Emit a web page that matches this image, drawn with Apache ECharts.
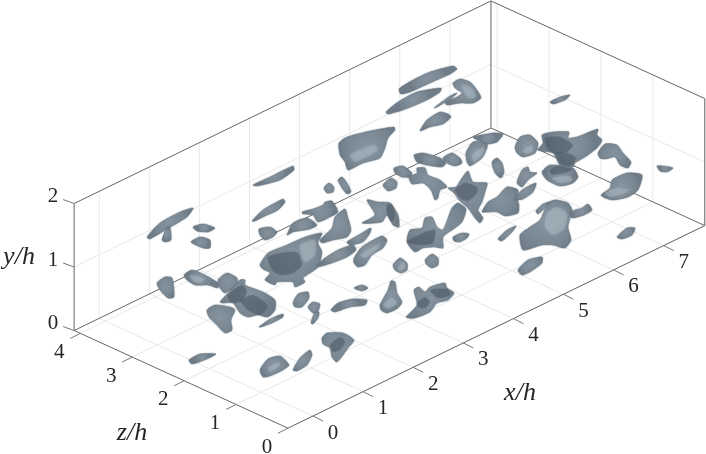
<!DOCTYPE html>
<html>
<head>
<meta charset="utf-8">
<style>
  html, body { margin: 0; padding: 0; background: #fff; }
  #app { width: 706px; height: 454px; }
</style>
<script src="https://cdn.jsdelivr.net/npm/echarts@6/dist/echarts.min.js"></script>
</head>
<body>
<div id="app"></div>
<script>
// axis ranges and ticks, in h units
const xRange = [-0.5, 7.82];
const zRange = [0, 4.12];
const yRange = [0, 2];
const xTicks = [0, 1, 2, 3, 4, 5, 6, 7];
const zTicks = [0, 1, 2, 3, 4];
const yTicks = [0, 1, 2];

// outlines of the iso-surfaces in view-plane units
const blobOutlines = [
  [[399,89],[413,80],[430,72],[453,66],[457,69],[450,74],[430,83],[410,92],[401,94]],
  [[386,112],[398,102],[417,92],[441,88],[440,92],[427,100],[403,110],[388,114]],
  [[434,108],[450,96],[457,93],[452,98],[437,107]],
  [[453,83],[460,79],[470,82],[477,90],[481,98],[473,103],[460,103],[447,105],[445,102],[457,97],[462,93],[455,88]],
  [[420,131],[427,120],[440,112],[448,114],[451,117],[443,124],[430,127]],
  [[339,143],[347,137],[370,131],[394,127],[395,130],[388,138],[385,148],[380,158],[363,163],[348,170],[345,162],[340,155]],
  [[253,185],[270,177],[293,166],[294,170],[280,180],[257,186]],
  [[324,188],[329,183],[334,187],[333,192],[327,193]],
  [[338,180],[342,177],[347,183],[351,192],[347,194],[342,188]],
  [[383,185],[391,178],[397,182],[396,188],[388,191]],
  [[414,155],[423,153],[440,158],[446,163],[442,167],[427,165],[417,162]],
  [[443,158],[452,153],[460,158],[462,163],[455,166],[447,163]],
  [[466,153],[473,142],[487,143],[487,148],[482,158],[470,166],[467,162]],
  [[473,137],[493,133],[503,134],[497,142],[487,144],[477,140]],
  [[492,162],[497,158],[502,163],[504,172],[501,178],[495,173]],
  [[394,168],[403,166],[412,173],[410,177],[402,177],[395,173]],
  [[409,177],[417,173],[417,168],[425,168],[428,175],[440,180],[447,187],[440,190],[438,198],[435,200],[431,190],[423,183],[412,184]],
  [[448,188],[456,187],[462,178],[468,171],[473,182],[487,183],[485,192],[482,202],[478,210],[483,218],[480,223],[475,218],[468,208],[460,201],[454,193]],
  [[482,212],[488,202],[497,197],[507,187],[518,190],[517,198],[519,205],[518,213],[505,216],[497,212],[487,212]],
  [[498,239],[507,230],[516,226],[512,232],[502,241]],
  [[453,237],[462,233],[469,234],[467,238],[460,242],[454,241]],
  [[407,242],[410,230],[422,228],[425,218],[432,217],[437,227],[443,230],[452,208],[458,203],[466,209],[462,222],[455,228],[443,237],[443,248],[435,247],[423,248],[415,252]],
  [[367,200],[378,202],[390,203],[398,215],[399,227],[393,225],[387,215],[382,222],[362,223],[375,215]],
  [[425,260],[432,254],[438,258],[438,265],[432,268],[427,265]],
  [[393,265],[400,258],[407,263],[407,270],[401,273],[395,270]],
  [[380,305],[388,290],[391,281],[395,282],[397,293],[402,302],[398,308],[387,313],[381,310]],
  [[406,317],[417,305],[414,290],[419,287],[425,292],[430,287],[445,283],[447,288],[454,293],[448,300],[437,303],[430,312],[415,318],[408,318]],
  [[252,221],[263,210],[283,199],[285,202],[278,210],[263,217],[255,221]],
  [[259,229],[270,227],[277,232],[273,237],[265,240],[260,235]],
  [[287,235],[293,223],[307,218],[317,225],[310,229],[293,232],[288,235]],
  [[302,212],[313,209],[323,205],[325,202],[332,201],[338,212],[330,217],[318,222],[313,215],[303,214]],
  [[260,265],[268,253],[287,245],[305,237],[322,233],[318,243],[322,252],[318,267],[307,275],[303,278],[305,282],[295,287],[293,282],[277,282],[275,285],[265,280],[270,273],[263,269]],
  [[320,240],[332,228],[335,217],[345,209],[348,218],[351,230],[347,237],[333,240],[322,243]],
  [[317,265],[325,258],[338,250],[353,245],[356,250],[347,257],[332,263],[318,267]],
  [[347,242],[362,233],[371,228],[370,233],[363,242],[350,245]],
  [[354,258],[362,247],[382,236],[387,240],[383,248],[372,255],[365,265],[358,267],[354,263]],
  [[354,288],[362,285],[368,288],[362,291]],
  [[331,310],[338,303],[353,299],[367,300],[365,305],[350,307],[335,312]],
  [[293,303],[298,294],[308,292],[309,298],[302,307],[295,307]],
  [[308,307],[313,302],[320,304],[318,311],[313,313]],
  [[311,323],[315,312],[319,312],[318,318],[313,324]],
  [[259,327],[270,319],[283,314],[283,317],[272,323],[261,327]],
  [[260,370],[268,359],[280,356],[289,365],[283,370],[270,376],[263,377]],
  [[293,370],[300,358],[310,350],[312,355],[307,365],[297,371]],
  [[322,338],[327,333],[343,333],[354,340],[348,348],[337,362],[332,357],[330,348],[323,344]],
  [[189,360],[200,354],[216,354],[207,359],[192,364]],
  [[147,237],[160,223],[180,212],[193,208],[187,217],[167,229],[150,239]],
  [[162,240],[167,227],[170,227],[171,240],[165,242]],
  [[193,227],[203,224],[215,228],[208,232],[197,231]],
  [[191,242],[200,237],[210,240],[210,248],[203,248]],
  [[157,283],[165,277],[172,278],[174,297],[168,298],[160,290]],
  [[184,275],[192,270],[205,275],[218,283],[218,288],[208,285],[195,285],[187,280]],
  [[218,280],[227,273],[237,278],[237,285],[225,293],[220,288]],
  [[220,302],[228,293],[240,280],[245,280],[245,285],[263,292],[275,300],[275,310],[268,317],[258,315],[248,317],[240,313],[233,303],[223,303]],
  [[207,310],[215,305],[230,307],[235,310],[231,320],[232,330],[225,333],[215,323],[209,317]],
  [[515,147],[520,137],[530,135],[538,143],[535,153],[523,157],[517,153]],
  [[538,150],[543,143],[542,135],[553,132],[569,132],[568,138],[577,137],[598,129],[597,135],[602,140],[597,148],[585,157],[575,163],[573,167],[560,165],[553,153]],
  [[542,172],[550,165],[573,168],[578,177],[573,183],[560,186],[547,180]],
  [[598,153],[605,144],[617,145],[623,153],[631,162],[628,168],[620,165],[615,157],[605,159],[600,158]],
  [[601,195],[610,188],[612,180],[627,173],[642,175],[638,190],[628,197],[613,200],[605,198]],
  [[617,237],[627,228],[635,228],[632,235],[622,239]],
  [[550,102],[560,97],[570,95],[565,100],[553,104]],
  [[657,166],[663,166],[673,168],[667,172],[660,171]],
  [[520,235],[530,227],[540,220],[548,203],[555,200],[568,203],[572,210],[568,227],[571,240],[565,248],[553,245],[542,245],[523,250]],
  [[570,212],[582,208],[588,204],[592,210],[584,215],[572,218]],
  [[536,211],[543,204],[550,202],[545,208],[538,214]],
  [[517,183],[522,170],[528,167],[530,172],[537,173],[528,180],[522,187]],
  [[514,200],[522,190],[536,183],[533,192],[523,199]],
  [[518,270],[528,260],[542,257],[542,263],[530,272],[522,275]]
];

// overlaps, where one surface shows through another
const darkPatches = [
  [[455,190],[465,183],[477,187],[477,193],[468,201],[460,198]],
  [[407,242],[425,232],[435,230],[433,243],[422,245]],
  [[417,303],[425,297],[430,302],[425,308],[419,307]],
  [[430,290],[447,289],[450,295],[438,298]],
  [[268,257],[287,252],[298,253],[302,265],[293,273],[280,275],[272,270]],
  [[330,345],[340,337],[345,342],[340,350],[333,352]],
  [[228,295],[242,285],[247,292],[240,302],[230,302]],
  [[240,300],[253,295],[265,302],[268,307],[260,315],[248,310]],
  [[545,138],[560,137],[573,145],[567,152],[553,153],[547,148]],
  [[555,153],[568,153],[576,158],[572,165],[562,165]],
  [[550,170],[557,166],[572,169],[565,173],[552,175]],
  [[387,205],[392,204],[395,215],[392,222],[387,215]]
];

const lightPatches = [
  [[547,213],[557,207],[567,213],[565,228],[553,235],[545,227]],
  [[605,193],[617,188],[630,190],[623,194],[610,197]],
  [[383,305],[392,298],[397,303],[388,309]],
  [[360,255],[380,243],[378,248],[365,258]],
  [[523,150],[532,145],[533,151],[526,154]],
  [[268,368],[278,362],[280,365],[270,372]],
  [[350,155],[375,145],[378,150],[355,162]],
  [[300,245],[315,240],[315,255],[305,262]],
  [[462,85],[472,88],[476,97],[468,98]],
  [[190,275],[205,279],[200,283],[192,280]],
  [[472,155],[483,147],[484,152],[474,162]],
  [[552,178],[570,176],[572,181],[560,183]],
  [[398,268],[404,262],[405,268],[400,271]]
];

// box view: x/h, z/h and y/h onto the view plane
function project(x, y, z) {
  return [313 + 50.1 * x - 51.9 * z, 416 - 24.35 * x - 23.7 * z - 63.5 * y];
}

function seg(a, b, color) {
  return { from: project(a[0], a[1], a[2]), to: project(b[0], b[1], b[2]), color: color };
}

const gridColor = "#e8e8e8";
const boxColor = "#666666";
const tickColor = "#777777";
const x0 = xRange[0], x1 = xRange[1], z0 = zRange[0], z1 = zRange[1], y1 = yRange[1];

let lines = [];
// 网格
xTicks.forEach((t) => {
  lines.push(seg([t, 0, z0], [t, 0, z1], gridColor));
  lines.push(seg([t, 0, z1], [t, y1, z1], gridColor));
});
zTicks.forEach((t) => {
  lines.push(seg([x0, 0, t], [x1, 0, t], gridColor));
  lines.push(seg([x1, 0, t], [x1, y1, t], gridColor));
});
lines.push(seg([x0, 1, z1], [x1, 1, z1], gridColor));
lines.push(seg([x1, 1, z0], [x1, 1, z1], gridColor));
// 外框
lines.push(seg([x0, 0, z0], [x1, 0, z0], boxColor));
lines.push(seg([x0, 0, z0], [x0, 0, z1], boxColor));
lines.push(seg([x0, 0, z1], [x0, y1, z1], boxColor));
lines.push(seg([x0, y1, z1], [x1, y1, z1], boxColor));
lines.push(seg([x0, 0, z1], [x1, 0, z1], boxColor));
lines.push(seg([x1, 0, z1], [x1, y1, z1], boxColor));
lines.push(seg([x1, y1, z1], [x1, y1, z0], boxColor));
lines.push(seg([x1, 0, z1], [x1, 0, z0], boxColor));
lines.push(seg([x1, 0, z0], [x1, y1, z0], boxColor));

let labels = [];
const tickFont = '21px "Liberation Serif"';
xTicks.forEach((t) => {
  let p = project(t, 0, z0);
  lines.push({ from: p, to: [p[0] + 10, p[1] + 5], color: tickColor });
  labels.push({ at: [p[0] + 20, p[1] + 17], text: String(t), font: tickFont });
});
zTicks.forEach((t) => {
  let p = project(x0, 0, t);
  lines.push({ from: p, to: [p[0] - 10, p[1] + 5], color: tickColor });
  labels.push({ at: [p[0] - 21, p[1] + 19], text: String(t), font: tickFont });
});
yTicks.forEach((t) => {
  let p = project(x0, t, z1);
  lines.push({ from: p, to: [p[0] - 11, p[1] - 4], color: tickColor });
  labels.push({ at: [p[0] - 21, p[1] - 7], text: String(t), font: tickFont });
});
const titleFont = 'italic 26px "Liberation Serif"';
labels.push({ at: [520, 393], text: "x/h", font: titleFont });
labels.push({ at: [132, 433], text: "z/h", font: titleFont });
labels.push({ at: [19, 257], text: "y/h", font: titleFont });

function outlineSeries(list, z, styleFn) {
  return {
    type: "custom",
    coordinateSystem: "cartesian2d",
    silent: true,
    z: z,
    data: list.map((d, i) => [i]),
    encode: { x: [], y: [] },
    renderItem: (params, api) => ({
      type: "polygon",
      shape: { points: list[params.dataIndex].map((p) => api.coord(p)), smooth: 0.22 },
      style: styleFn(),
    }),
  };
}

const blobFill = {
  type: "radial", x: 0.5, y: 0.45, r: 0.65,
  colorStops: [
    { offset: 0, color: "#83919e" },
    { offset: 0.7, color: "#75848f" },
    { offset: 1, color: "#6a7884" },
  ],
};

const option = {
  animation: false,
  grid: { left: 0, right: 0, top: 0, bottom: 0 },
  xAxis: { type: "value", min: 0, max: 706, show: false },
  yAxis: { type: "value", min: 0, max: 454, inverse: true, show: false },
  series: [
    {
      type: "custom",
      coordinateSystem: "cartesian2d",
      silent: true,
      z: 1,
      data: lines.map((d, i) => [i]),
      encode: { x: [], y: [] },
      renderItem: (params, api) => {
        let l = lines[params.dataIndex];
        let a = api.coord(l.from), b = api.coord(l.to);
        return {
          type: "line",
          shape: { x1: a[0], y1: a[1], x2: b[0], y2: b[1] },
          style: { stroke: l.color, lineWidth: 1 },
        };
      },
    },
    outlineSeries(blobOutlines, 2, () => ({
      fill: blobFill,
      opacity: 0.92,
      stroke: "rgba(100,114,126,0.6)",
      lineWidth: 0.8,
      shadowBlur: 1.5,
      shadowColor: "rgba(100,114,126,0.6)",
    })),
    outlineSeries(darkPatches, 3, () => ({
      fill: "#46535f",
      opacity: 0.42,
      shadowBlur: 2,
      shadowColor: "rgba(60,72,84,0.5)",
    })),
    outlineSeries(lightPatches, 4, () => ({
      fill: "#b7c3cd",
      opacity: 0.34,
      shadowBlur: 4,
      shadowColor: "rgba(183,195,205,0.8)",
    })),
    {
      type: "custom",
      coordinateSystem: "cartesian2d",
      silent: true,
      z: 5,
      data: labels.map((d, i) => [i]),
      encode: { x: [], y: [] },
      renderItem: (params, api) => {
        let l = labels[params.dataIndex];
        let p = api.coord(l.at);
        return {
          type: "text",
          x: p[0],
          y: p[1],
          style: { text: l.text, font: l.font, fill: "#262626", align: "center", verticalAlign: "middle" },
        };
      },
    },
  ],
};

var myChart = echarts.init(document.getElementById("app"), null, { renderer: "canvas" });
myChart.setOption(option);
</script>
</body>
</html>
